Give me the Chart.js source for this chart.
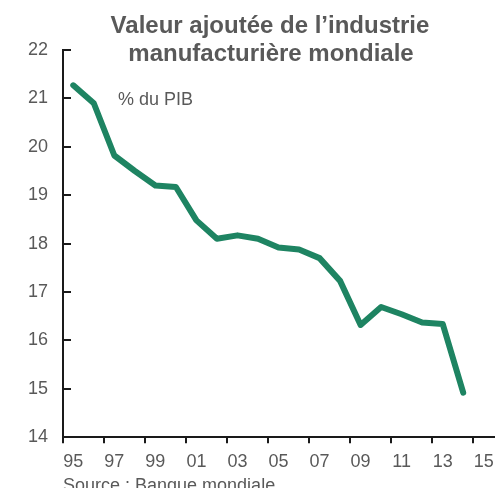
<!DOCTYPE html>
<html>
<head>
<meta charset="utf-8">
<script src="https://cdn.jsdelivr.net/npm/chart.js@4/dist/chart.umd.min.js"></script>
<style>
  html, body { margin: 0; padding: 0; background: #fff; }
  #wrap { width: 495px; height: 488px; }
</style>
</head>
<body>
<div id="wrap"><canvas id="manuf_chart"></canvas></div>
<script>
// years on the category axis (95 ... 15), value for 2015 not published
let years = [1995, 1996, 1997, 1998, 1999, 2000, 2001, 2002, 2003, 2004, 2005,
             2006, 2007, 2008, 2009, 2010, 2011, 2012, 2013, 2014, 2015];
// valeur ajoutee manufacturiere, % du PIB mondial
let shareGdp = [21.27, 20.90, 19.82, 19.50, 19.20, 19.17, 18.48, 18.10, 18.17, 18.10,
                17.92, 17.88, 17.70, 17.23, 16.32, 16.69, 16.54, 16.37, 16.34, 14.92];
let yMin = 14, yMax = 22;

let titleLines = ["Valeur ajoutée de l\u2019industrie", "manufacturière mondiale"];
let unitLabel = "% du PIB";
let sourceText = "Source : Banque mondiale.";

const grey = "#595959";
const axisCol = "#1a1a1a";
const fontFam = "'Liberation Sans', Arial, sans-serif";

// title, unit and source drawn straight on the canvas
const textPlugin = {
    id: "texts",
    afterDraw(chart) {
        let ctx = chart.ctx;
        ctx.save();
        ctx.fillStyle = grey;
        ctx.textAlign = "center";
        ctx.textBaseline = "alphabetic";
        ctx.font = "bold 24px " + fontFam;
        ctx.fillText(titleLines[0], 270, 33);
        ctx.fillText(titleLines[1], 271, 61);
        ctx.textAlign = "left";
        ctx.font = "18px " + fontFam;
        ctx.fillText(unitLabel, 118, 105);
        ctx.fillText(sourceText, 63, 491);
        ctx.restore();
    }
};

new Chart("manuf_chart", {
    type: "line",
    data: {
        labels: years,
        datasets: [{
            data: shareGdp,
            borderColor: "#1e8462",
            borderWidth: 6,
            borderJoinStyle: "round",
            borderCapStyle: "round",
            pointRadius: 0,
            tension: 0,
            fill: false
        }]
    },
    options: {
        responsive: true,
        maintainAspectRatio: false,
        animation: false,
        layout: {
            padding: {top: 50, left: 13, right: 1, bottom: 7}
        },
        plugins: {
            legend: {display: false},
            title: {display: false},
            tooltip: {enabled: false}
        },
        scales: {
            x: {
                type: "category",
                offset: true,
                grid: {
                    offset: true,
                    drawOnChartArea: false,
                    drawTicks: true,
                    tickLength: 6,
                    lineWidth: 2,
                    color: function (c) {
                        return c.index % 2 === 0 ? axisCol : "rgba(0,0,0,0)";
                    }
                },
                border: {color: axisCol, width: 2},
                ticks: {
                    autoSkip: false,
                    maxRotation: 0,
                    padding: 0,
                    color: grey,
                    font: {family: fontFam, size: 18, lineHeight: 2.1},
                    callback: function (v, i) {
                        return i % 2 === 0 ? String(years[i]).slice(2) : "";
                    }
                }
            },
            y: {
                min: yMin,
                max: yMax,
                grid: {
                    drawOnChartArea: true,
                    drawTicks: false,
                    lineWidth: 2,
                    color: axisCol
                },
                border: {color: axisCol, width: 2, dash: [7, 2000]},
                ticks: {
                    stepSize: 1,
                    padding: 15,
                    color: grey,
                    font: {family: fontFam, size: 18}
                }
            }
        }
    },
    plugins: [textPlugin]
});
</script>
</body>
</html>
